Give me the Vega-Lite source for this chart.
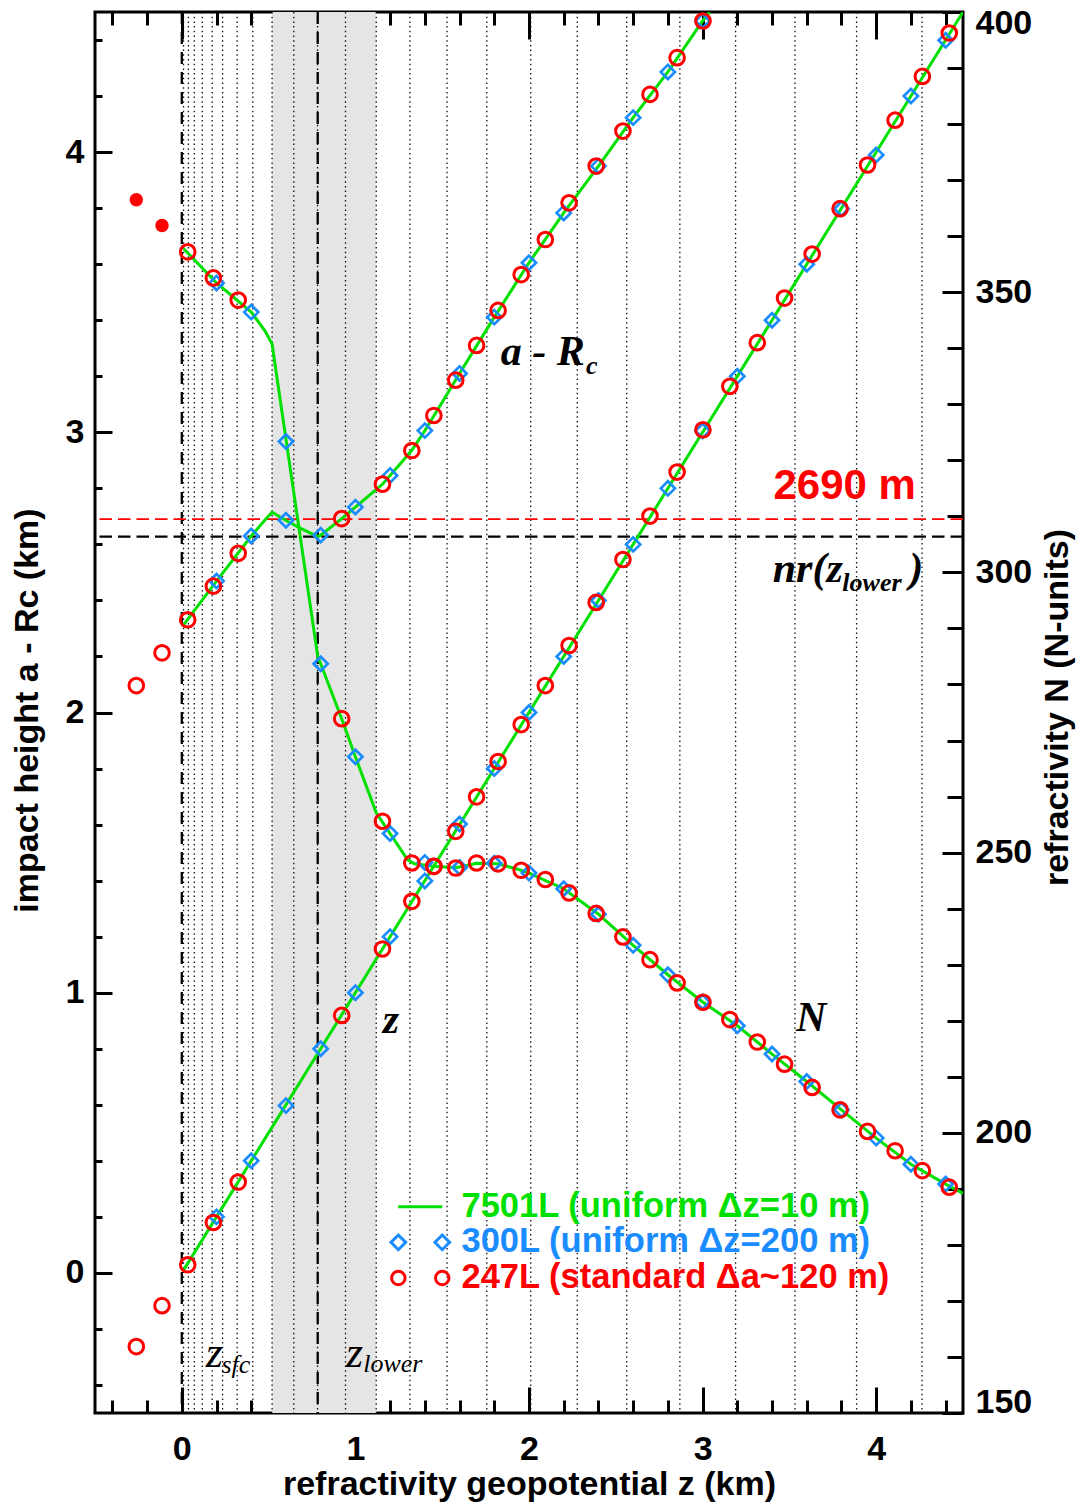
{
  "$schema": "https://vega.github.io/schema/vega-lite/v6.json",
  "width": 868,
  "height": 1401,
  "autosize": {"type": "none"},
  "padding": {"left": 95, "top": 12, "right": 117, "bottom": 91},
  "background": "white",
  "config": {
    "view": {"stroke": "black", "strokeWidth": 3},
    "axis": {
      "domain": false, "grid": false, "tickColor": "black", "tickWidth": 3,
      "labelFont": "Liberation Sans", "labelFontWeight": "bold", "labelFontSize": 34, "labelColor": "black",
      "titleFont": "Liberation Sans", "titleFontWeight": "bold", "titleFontSize": 34, "titleColor": "black"
    }
  },
  "datasets": {
    "band": [{"z1": 0.52, "z2": 1.12}],
    "levels": [{"z": 0.01}, {"z": 0.038}, {"z": 0.072}, {"z": 0.118}, {"z": 0.175}, {"z": 0.235}, {"z": 0.319}, {"z": 0.409}, {"z": 0.52}, {"z": 0.645}, {"z": 0.782}, {"z": 0.943}, {"z": 1.12}, {"z": 1.314}, {"z": 1.528}, {"z": 1.757}, {"z": 2.01}, {"z": 2.278}, {"z": 2.563}, {"z": 2.869}, {"z": 3.19}, {"z": 3.532}, {"z": 3.887}, {"z": 4.264}],
    "zmarks": [{"z": 0.0}, {"z": 0.783}],
    "hred": [{"h": 2.69}],
    "hblack": [{"h": 2.628}],
    "fineKm": [
      {"curve": "a", "z": 0.01, "h": 2.313, "res": "7501L (uniform Δz=10 m)"},
      {"curve": "a", "z": 0.2, "h": 2.469, "res": "7501L (uniform Δz=10 m)"},
      {"curve": "a", "z": 0.4, "h": 2.63, "res": "7501L (uniform Δz=10 m)"},
      {"curve": "a", "z": 0.48, "h": 2.688, "res": "7501L (uniform Δz=10 m)"},
      {"curve": "a", "z": 0.52, "h": 2.715, "res": "7501L (uniform Δz=10 m)"},
      {"curve": "a", "z": 0.598, "h": 2.686, "res": "7501L (uniform Δz=10 m)"},
      {"curve": "a", "z": 0.676, "h": 2.66, "res": "7501L (uniform Δz=10 m)"},
      {"curve": "a", "z": 0.783, "h": 2.628, "res": "7501L (uniform Δz=10 m)"},
      {"curve": "a", "z": 0.8, "h": 2.633, "res": "7501L (uniform Δz=10 m)"},
      {"curve": "a", "z": 0.921, "h": 2.692, "res": "7501L (uniform Δz=10 m)"},
      {"curve": "a", "z": 1.0, "h": 2.733, "res": "7501L (uniform Δz=10 m)"},
      {"curve": "a", "z": 1.156, "h": 2.815, "res": "7501L (uniform Δz=10 m)"},
      {"curve": "a", "z": 1.2, "h": 2.846, "res": "7501L (uniform Δz=10 m)"},
      {"curve": "a", "z": 1.324, "h": 2.935, "res": "7501L (uniform Δz=10 m)"},
      {"curve": "a", "z": 1.4, "h": 3.006, "res": "7501L (uniform Δz=10 m)"},
      {"curve": "a", "z": 1.452, "h": 3.058, "res": "7501L (uniform Δz=10 m)"},
      {"curve": "a", "z": 1.6, "h": 3.21, "res": "7501L (uniform Δz=10 m)"},
      {"curve": "a", "z": 1.8, "h": 3.411, "res": "7501L (uniform Δz=10 m)"},
      {"curve": "a", "z": 2.0, "h": 3.605, "res": "7501L (uniform Δz=10 m)"},
      {"curve": "a", "z": 2.2, "h": 3.783, "res": "7501L (uniform Δz=10 m)"},
      {"curve": "a", "z": 2.4, "h": 3.95, "res": "7501L (uniform Δz=10 m)"},
      {"curve": "a", "z": 2.6, "h": 4.123, "res": "7501L (uniform Δz=10 m)"},
      {"curve": "a", "z": 2.8, "h": 4.286, "res": "7501L (uniform Δz=10 m)"},
      {"curve": "a", "z": 3.0, "h": 4.468, "res": "7501L (uniform Δz=10 m)"},
      {"curve": "a", "z": 3.04, "h": 4.5, "res": "7501L (uniform Δz=10 m)"},
      {"curve": "z", "z": 0.01, "h": 0.01, "res": "7501L (uniform Δz=10 m)"},
      {"curve": "z", "z": 4.5, "h": 4.5, "res": "7501L (uniform Δz=10 m)"}
    ],
    "fineN": [
      {"z": 0.01, "N": 357.8, "res": "7501L (uniform Δz=10 m)"},
      {"z": 0.2, "N": 351.65, "res": "7501L (uniform Δz=10 m)"},
      {"z": 0.4, "N": 346.45, "res": "7501L (uniform Δz=10 m)"},
      {"z": 0.48, "N": 343.05, "res": "7501L (uniform Δz=10 m)"},
      {"z": 0.52, "N": 340.75, "res": "7501L (uniform Δz=10 m)"},
      {"z": 0.783, "N": 285.0, "res": "7501L (uniform Δz=10 m)"},
      {"z": 0.8, "N": 283.7, "res": "7501L (uniform Δz=10 m)"},
      {"z": 0.921, "N": 273.9, "res": "7501L (uniform Δz=10 m)"},
      {"z": 1.0, "N": 267.1, "res": "7501L (uniform Δz=10 m)"},
      {"z": 1.12, "N": 257.1, "res": "7501L (uniform Δz=10 m)"},
      {"z": 1.2, "N": 253.4, "res": "7501L (uniform Δz=10 m)"},
      {"z": 1.3, "N": 248.75, "res": "7501L (uniform Δz=10 m)"},
      {"z": 1.34, "N": 248.0, "res": "7501L (uniform Δz=10 m)"},
      {"z": 1.45, "N": 247.55, "res": "7501L (uniform Δz=10 m)"},
      {"z": 1.58, "N": 247.3, "res": "7501L (uniform Δz=10 m)"},
      {"z": 1.7, "N": 248.1, "res": "7501L (uniform Δz=10 m)"},
      {"z": 1.82, "N": 248.0, "res": "7501L (uniform Δz=10 m)"},
      {"z": 1.95, "N": 246.9, "res": "7501L (uniform Δz=10 m)"},
      {"z": 2.0, "N": 246.35, "res": "7501L (uniform Δz=10 m)"},
      {"z": 2.2, "N": 243.55, "res": "7501L (uniform Δz=10 m)"},
      {"z": 2.4, "N": 239.0, "res": "7501L (uniform Δz=10 m)"},
      {"z": 2.6, "N": 233.45, "res": "7501L (uniform Δz=10 m)"},
      {"z": 2.8, "N": 228.2, "res": "7501L (uniform Δz=10 m)"},
      {"z": 3.0, "N": 223.35, "res": "7501L (uniform Δz=10 m)"},
      {"z": 3.2, "N": 219.1, "res": "7501L (uniform Δz=10 m)"},
      {"z": 3.4, "N": 214.05, "res": "7501L (uniform Δz=10 m)"},
      {"z": 3.6, "N": 209.15, "res": "7501L (uniform Δz=10 m)"},
      {"z": 3.8, "N": 204.1, "res": "7501L (uniform Δz=10 m)"},
      {"z": 4.0, "N": 199.05, "res": "7501L (uniform Δz=10 m)"},
      {"z": 4.2, "N": 194.4, "res": "7501L (uniform Δz=10 m)"},
      {"z": 4.4, "N": 190.85, "res": "7501L (uniform Δz=10 m)"},
      {"z": 4.5, "N": 189.2, "res": "7501L (uniform Δz=10 m)"}
    ],
    "l300Km": [
      {"z": 0.2, "h": 2.469, "res": "300L (uniform Δz=200 m)"},
      {"z": 0.4, "h": 2.63, "res": "300L (uniform Δz=200 m)"},
      {"z": 0.6, "h": 2.686, "res": "300L (uniform Δz=200 m)"},
      {"z": 0.8, "h": 2.633, "res": "300L (uniform Δz=200 m)"},
      {"z": 1.0, "h": 2.733, "res": "300L (uniform Δz=200 m)"},
      {"z": 1.2, "h": 2.846, "res": "300L (uniform Δz=200 m)"},
      {"z": 1.4, "h": 3.006, "res": "300L (uniform Δz=200 m)"},
      {"z": 1.6, "h": 3.21, "res": "300L (uniform Δz=200 m)"},
      {"z": 1.8, "h": 3.411, "res": "300L (uniform Δz=200 m)"},
      {"z": 2.0, "h": 3.605, "res": "300L (uniform Δz=200 m)"},
      {"z": 2.2, "h": 3.783, "res": "300L (uniform Δz=200 m)"},
      {"z": 2.4, "h": 3.95, "res": "300L (uniform Δz=200 m)"},
      {"z": 2.6, "h": 4.123, "res": "300L (uniform Δz=200 m)"},
      {"z": 2.8, "h": 4.286, "res": "300L (uniform Δz=200 m)"},
      {"z": 3.0, "h": 4.468, "res": "300L (uniform Δz=200 m)"},
      {"z": 0.2, "h": 0.2, "res": "300L (uniform Δz=200 m)"},
      {"z": 0.4, "h": 0.4, "res": "300L (uniform Δz=200 m)"},
      {"z": 0.6, "h": 0.597, "res": "300L (uniform Δz=200 m)"},
      {"z": 0.8, "h": 0.8, "res": "300L (uniform Δz=200 m)"},
      {"z": 1.0, "h": 1.0, "res": "300L (uniform Δz=200 m)"},
      {"z": 1.2, "h": 1.2, "res": "300L (uniform Δz=200 m)"},
      {"z": 1.4, "h": 1.399, "res": "300L (uniform Δz=200 m)"},
      {"z": 1.6, "h": 1.602, "res": "300L (uniform Δz=200 m)"},
      {"z": 1.8, "h": 1.8, "res": "300L (uniform Δz=200 m)"},
      {"z": 2.0, "h": 2.0, "res": "300L (uniform Δz=200 m)"},
      {"z": 2.2, "h": 2.2, "res": "300L (uniform Δz=200 m)"},
      {"z": 2.4, "h": 2.4, "res": "300L (uniform Δz=200 m)"},
      {"z": 2.6, "h": 2.6, "res": "300L (uniform Δz=200 m)"},
      {"z": 2.8, "h": 2.8, "res": "300L (uniform Δz=200 m)"},
      {"z": 3.0, "h": 3.005, "res": "300L (uniform Δz=200 m)"},
      {"z": 3.2, "h": 3.2, "res": "300L (uniform Δz=200 m)"},
      {"z": 3.4, "h": 3.4, "res": "300L (uniform Δz=200 m)"},
      {"z": 3.6, "h": 3.6, "res": "300L (uniform Δz=200 m)"},
      {"z": 3.8, "h": 3.798, "res": "300L (uniform Δz=200 m)"},
      {"z": 4.0, "h": 3.99, "res": "300L (uniform Δz=200 m)"},
      {"z": 4.2, "h": 4.2, "res": "300L (uniform Δz=200 m)"},
      {"z": 4.4, "h": 4.399, "res": "300L (uniform Δz=200 m)"}
    ],
    "l300N": [
      {"z": 0.2, "N": 351.65, "res": "300L (uniform Δz=200 m)"},
      {"z": 0.4, "N": 346.45, "res": "300L (uniform Δz=200 m)"},
      {"z": 0.6, "N": 323.35, "res": "300L (uniform Δz=200 m)"},
      {"z": 0.8, "N": 283.7, "res": "300L (uniform Δz=200 m)"},
      {"z": 1.0, "N": 267.1, "res": "300L (uniform Δz=200 m)"},
      {"z": 1.2, "N": 253.4, "res": "300L (uniform Δz=200 m)"},
      {"z": 1.4, "N": 248.25, "res": "300L (uniform Δz=200 m)"},
      {"z": 1.6, "N": 247.35, "res": "300L (uniform Δz=200 m)"},
      {"z": 1.8, "N": 248.1, "res": "300L (uniform Δz=200 m)"},
      {"z": 2.0, "N": 246.35, "res": "300L (uniform Δz=200 m)"},
      {"z": 2.2, "N": 243.55, "res": "300L (uniform Δz=200 m)"},
      {"z": 2.4, "N": 239.0, "res": "300L (uniform Δz=200 m)"},
      {"z": 2.6, "N": 233.45, "res": "300L (uniform Δz=200 m)"},
      {"z": 2.8, "N": 228.2, "res": "300L (uniform Δz=200 m)"},
      {"z": 3.0, "N": 223.35, "res": "300L (uniform Δz=200 m)"},
      {"z": 3.2, "N": 219.1, "res": "300L (uniform Δz=200 m)"},
      {"z": 3.4, "N": 214.05, "res": "300L (uniform Δz=200 m)"},
      {"z": 3.6, "N": 209.15, "res": "300L (uniform Δz=200 m)"},
      {"z": 3.8, "N": 204.1, "res": "300L (uniform Δz=200 m)"},
      {"z": 4.0, "N": 199.05, "res": "300L (uniform Δz=200 m)"},
      {"z": 4.2, "N": 194.4, "res": "300L (uniform Δz=200 m)"},
      {"z": 4.4, "N": 190.85, "res": "300L (uniform Δz=200 m)"}
    ],
    "l247Km": [
      {"z": -0.262, "h": 2.096, "res": "247L (standard Δa~120 m)"},
      {"z": -0.114, "h": 2.213, "res": "247L (standard Δa~120 m)"},
      {"z": 0.034, "h": 2.331, "res": "247L (standard Δa~120 m)"},
      {"z": 0.182, "h": 2.451, "res": "247L (standard Δa~120 m)"},
      {"z": 0.325, "h": 2.568, "res": "247L (standard Δa~120 m)"},
      {"z": 0.921, "h": 2.692, "res": "247L (standard Δa~120 m)"},
      {"z": 1.156, "h": 2.815, "res": "247L (standard Δa~120 m)"},
      {"z": 1.325, "h": 2.935, "res": "247L (standard Δa~120 m)"},
      {"z": 1.452, "h": 3.06, "res": "247L (standard Δa~120 m)"},
      {"z": 1.578, "h": 3.186, "res": "247L (standard Δa~120 m)"},
      {"z": 1.698, "h": 3.31, "res": "247L (standard Δa~120 m)"},
      {"z": 1.822, "h": 3.435, "res": "247L (standard Δa~120 m)"},
      {"z": 1.955, "h": 3.563, "res": "247L (standard Δa~120 m)"},
      {"z": 2.094, "h": 3.688, "res": "247L (standard Δa~120 m)"},
      {"z": 2.231, "h": 3.819, "res": "247L (standard Δa~120 m)"},
      {"z": 2.387, "h": 3.95, "res": "247L (standard Δa~120 m)"},
      {"z": 2.541, "h": 4.075, "res": "247L (standard Δa~120 m)"},
      {"z": 2.697, "h": 4.206, "res": "247L (standard Δa~120 m)"},
      {"z": 2.853, "h": 4.337, "res": "247L (standard Δa~120 m)"},
      {"z": 3.002, "h": 4.468, "res": "247L (standard Δa~120 m)"},
      {"z": -0.262, "h": -0.263, "res": "247L (standard Δa~120 m)"},
      {"z": -0.114, "h": -0.117, "res": "247L (standard Δa~120 m)"},
      {"z": 0.034, "h": 0.029, "res": "247L (standard Δa~120 m)"},
      {"z": 0.182, "h": 0.18, "res": "247L (standard Δa~120 m)"},
      {"z": 0.325, "h": 0.324, "res": "247L (standard Δa~120 m)"},
      {"z": 0.921, "h": 0.919, "res": "247L (standard Δa~120 m)"},
      {"z": 1.156, "h": 1.156, "res": "247L (standard Δa~120 m)"},
      {"z": 1.325, "h": 1.326, "res": "247L (standard Δa~120 m)"},
      {"z": 1.452, "h": 1.451, "res": "247L (standard Δa~120 m)"},
      {"z": 1.578, "h": 1.576, "res": "247L (standard Δa~120 m)"},
      {"z": 1.698, "h": 1.699, "res": "247L (standard Δa~120 m)"},
      {"z": 1.822, "h": 1.825, "res": "247L (standard Δa~120 m)"},
      {"z": 1.955, "h": 1.957, "res": "247L (standard Δa~120 m)"},
      {"z": 2.094, "h": 2.096, "res": "247L (standard Δa~120 m)"},
      {"z": 2.231, "h": 2.239, "res": "247L (standard Δa~120 m)"},
      {"z": 2.387, "h": 2.393, "res": "247L (standard Δa~120 m)"},
      {"z": 2.541, "h": 2.546, "res": "247L (standard Δa~120 m)"},
      {"z": 2.697, "h": 2.701, "res": "247L (standard Δa~120 m)"},
      {"z": 2.853, "h": 2.858, "res": "247L (standard Δa~120 m)"},
      {"z": 3.002, "h": 3.009, "res": "247L (standard Δa~120 m)"},
      {"z": 3.157, "h": 3.164, "res": "247L (standard Δa~120 m)"},
      {"z": 3.315, "h": 3.32, "res": "247L (standard Δa~120 m)"},
      {"z": 3.472, "h": 3.479, "res": "247L (standard Δa~120 m)"},
      {"z": 3.631, "h": 3.636, "res": "247L (standard Δa~120 m)"},
      {"z": 3.792, "h": 3.798, "res": "247L (standard Δa~120 m)"},
      {"z": 3.95, "h": 3.954, "res": "247L (standard Δa~120 m)"},
      {"z": 4.109, "h": 4.114, "res": "247L (standard Δa~120 m)"},
      {"z": 4.266, "h": 4.27, "res": "247L (standard Δa~120 m)"},
      {"z": 4.421, "h": 4.425, "res": "247L (standard Δa~120 m)"}
    ],
    "l247N": [
      {"z": 0.034, "N": 357.2, "res": "247L (standard Δa~120 m)"},
      {"z": 0.182, "N": 352.55, "res": "247L (standard Δa~120 m)"},
      {"z": 0.325, "N": 348.6, "res": "247L (standard Δa~120 m)"},
      {"z": 0.921, "N": 273.9, "res": "247L (standard Δa~120 m)"},
      {"z": 1.156, "N": 255.6, "res": "247L (standard Δa~120 m)"},
      {"z": 1.325, "N": 248.15, "res": "247L (standard Δa~120 m)"},
      {"z": 1.452, "N": 247.55, "res": "247L (standard Δa~120 m)"},
      {"z": 1.578, "N": 247.25, "res": "247L (standard Δa~120 m)"},
      {"z": 1.698, "N": 248.15, "res": "247L (standard Δa~120 m)"},
      {"z": 1.822, "N": 248.0, "res": "247L (standard Δa~120 m)"},
      {"z": 1.955, "N": 246.85, "res": "247L (standard Δa~120 m)"},
      {"z": 2.094, "N": 245.2, "res": "247L (standard Δa~120 m)"},
      {"z": 2.231, "N": 242.8, "res": "247L (standard Δa~120 m)"},
      {"z": 2.387, "N": 239.15, "res": "247L (standard Δa~120 m)"},
      {"z": 2.541, "N": 234.95, "res": "247L (standard Δa~120 m)"},
      {"z": 2.697, "N": 230.9, "res": "247L (standard Δa~120 m)"},
      {"z": 2.853, "N": 226.75, "res": "247L (standard Δa~120 m)"},
      {"z": 3.002, "N": 223.3, "res": "247L (standard Δa~120 m)"},
      {"z": 3.157, "N": 220.2, "res": "247L (standard Δa~120 m)"},
      {"z": 3.315, "N": 216.2, "res": "247L (standard Δa~120 m)"},
      {"z": 3.472, "N": 212.25, "res": "247L (standard Δa~120 m)"},
      {"z": 3.631, "N": 208.1, "res": "247L (standard Δa~120 m)"},
      {"z": 3.792, "N": 204.1, "res": "247L (standard Δa~120 m)"},
      {"z": 3.95, "N": 200.25, "res": "247L (standard Δa~120 m)"},
      {"z": 4.109, "N": 196.8, "res": "247L (standard Δa~120 m)"},
      {"z": 4.266, "N": 193.25, "res": "247L (standard Δa~120 m)"},
      {"z": 4.421, "N": 190.3, "res": "247L (standard Δa~120 m)"}
    ],
    "extraN": [{"z": -0.262, "N": 366.5}, {"z": -0.114, "N": 361.9}],
    "labBigBI": [
      {"t": "a - R", "z": 1.837, "h": 3.239},
      {"t": "z", "z": 1.158, "h": 0.857},
      {"t": "N", "z": 3.538, "h": 0.862},
      {"t": "nr(z", "z": 3.404, "h": 2.464},
      {"t": ")", "z": 4.19, "h": 2.464}
    ],
    "labSubBI": [
      {"t": "c", "z": 2.328, "h": 3.208},
      {"t": "lower", "z": 3.805, "h": 2.432}
    ],
    "labBigI": [
      {"t": "z", "z": 0.1375, "h": -0.335},
      {"t": "z", "z": 0.946, "h": -0.335}
    ],
    "labSubI": [
      {"t": "sfc", "z": 0.228, "h": -0.356},
      {"t": "lower", "z": 1.045, "h": -0.354}
    ],
    "labRed": [{"t": "2690 m", "z": 3.408, "h": 2.761}]
  },
  "layer": [
    {
      "data": {"name": "band"},
      "mark": {"type": "rect", "color": "#e5e5e5"},
      "encoding": {
        "x": {"field": "z1", "type": "quantitative", "scale": {"domain": [-0.5, 4.5], "nice": false, "zero": false},
          "axis": {"orient": "bottom", "values": [0, 1, 2, 3, 4], "tickSize": -26, "labelPadding": 45, "labelFlush": false,
            "title": "refractivity geopotential z (km)", "titleX": 434, "titleY": 81, "titleBaseline": "alphabetic", "titleAlign": "center"}},
        "x2": {"field": "z2"}
      }
    },
    {
      "data": {"name": "levels"},
      "mark": {"type": "rule", "color": "#111111", "strokeWidth": 1.3, "strokeDash": [1.5, 3.2]},
      "encoding": {
        "x": {"field": "z", "type": "quantitative", "scale": {"domain": [-0.5, 4.5], "nice": false, "zero": false},
          "axis": {"orient": "top", "values": [0, 1, 2, 3, 4], "tickSize": -27, "labels": false, "title": null}}
      }
    },
    {
      "data": {"name": "zmarks"},
      "mark": {"type": "rule", "color": "black", "strokeWidth": 2.3, "strokeDash": [12, 8]},
      "encoding": {
        "x": {"field": "z", "type": "quantitative", "scale": {"domain": [-0.5, 4.5], "nice": false, "zero": false},
          "axis": {"orient": "bottom", "values": [-0.4, -0.2, 0.2, 0.4, 0.6, 0.8, 1.2, 1.4, 1.6, 1.8, 2.2, 2.4, 2.6, 2.8, 3.2, 3.4, 3.6, 3.8, 4.2, 4.4], "tickSize": -13, "labels": false, "title": null}}
      }
    },
    {
      "data": {"name": "hred"},
      "mark": {"type": "rule", "color": "#ff0000", "strokeWidth": 1.6, "strokeDash": [12.5, 6]},
      "encoding": {
        "y": {"field": "h", "type": "quantitative", "scale": {"domain": [-0.5, 4.5], "nice": false, "zero": false},
          "axis": {"orient": "left", "values": [0, 1, 2, 3, 4], "tickSize": -17, "labelPadding": 28,
            "title": "impact height a - Rc (km)", "titleAngle": -90, "titleX": -58, "titleY": 698, "titleBaseline": "alphabetic", "titleAlign": "center"}}
      }
    },
    {
      "data": {"name": "hblack"},
      "mark": {"type": "rule", "color": "black", "strokeWidth": 2.2, "strokeDash": [12.5, 6]},
      "encoding": {
        "y": {"field": "h", "type": "quantitative", "scale": {"domain": [-0.5, 4.5], "nice": false, "zero": false},
          "axis": {"orient": "left", "values": [-0.4, -0.2, 0.2, 0.4, 0.6, 0.8, 1.2, 1.4, 1.6, 1.8, 2.2, 2.4, 2.6, 2.8, 3.2, 3.4, 3.6, 3.8, 4.2, 4.4], "tickSize": -7, "labels": false, "title": null}}
      }
    },
    {
      "data": {"name": "fineKm"},
      "mark": {"type": "line", "strokeWidth": 3, "clip": true},
      "encoding": {
        "x": {"field": "z", "type": "quantitative", "scale": {"domain": [-0.5, 4.5], "nice": false, "zero": false},
          "axis": {"orient": "top", "values": [-0.4, -0.2, 0.2, 0.4, 0.6, 0.8, 1.2, 1.4, 1.6, 1.8, 2.2, 2.4, 2.6, 2.8, 3.2, 3.4, 3.6, 3.8, 4.2, 4.4], "tickSize": -13, "labels": false, "title": null}},
        "y": {"field": "h", "type": "quantitative", "scale": {"domain": [-0.5, 4.5], "nice": false, "zero": false}, "axis": null},
        "detail": {"field": "curve"},
        "color": {"field": "res", "type": "nominal",
          "scale": {"domain": ["7501L (uniform Δz=10 m)", "300L (uniform Δz=200 m)", "247L (standard Δa~120 m)"], "range": ["#00e000", "#1a8cff", "#ff0000"]},
          "legend": {
            "orient": "none", "legendX": 330, "legendY": 1177.5, "direction": "vertical", "title": null, "padding": 0,
            "symbolSize": 150, "symbolStrokeWidth": 3, "symbolFillColor": "transparent", "symbolOpacity": 1,
            "symbolType": {"expr": "datum.value == '300L (uniform Δz=200 m)' ? 'M0,-1.2L1.2,0L0,1.2L-1.2,0Z M-7.17,-1.2L-5.97,0L-7.17,1.2L-8.37,0Z' : datum.value == '247L (standard Δa~120 m)' ? 'M1.1,0A1.1,1.1,0,1,1,-1.1,0A1.1,1.1,0,1,1,1.1,0Z M-6.07,0A1.1,1.1,0,1,1,-8.27,0A1.1,1.1,0,1,1,-6.07,0Z' : 'M-7.2,0L0,0'"},
            "symbolStrokeColor": {"expr": "scale('color', datum.value)"},
            "labelColor": {"expr": "scale('color', datum.value)"},
            "labelFont": "Liberation Sans", "labelFontWeight": "bold", "labelFontSize": 34.5, "labelOffset": 2, "labelLimit": 1000, "rowPadding": 0.6
          }
        }
      }
    },
    {
      "data": {"name": "fineN"},
      "mark": {"type": "line", "strokeWidth": 3, "clip": true},
      "encoding": {
        "x": {"field": "z", "type": "quantitative", "scale": {"domain": [-0.5, 4.5], "nice": false, "zero": false}, "axis": null},
        "y": {"field": "N", "type": "quantitative", "scale": {"domain": [150, 400], "nice": false, "zero": false},
          "axis": {"orient": "right", "values": [150, 200, 250, 300, 350, 400], "tickSize": -21, "labelPadding": 33, "labelFlush": true, "labelFlushOffset": 6,
            "title": "refractivity N (N-units)", "titleAngle": -90, "titleX": 104, "titleY": 695, "titleBaseline": "alphabetic", "titleAlign": "center"}},
        "color": {"field": "res", "type": "nominal", "legend": null}
      }
    },
    {
      "data": {"name": "l300Km"},
      "mark": {"type": "point", "shape": "diamond", "filled": false, "size": 200, "strokeWidth": 2.7, "opacity": 1},
      "encoding": {
        "x": {"field": "z", "type": "quantitative", "scale": {"domain": [-0.5, 4.5], "nice": false, "zero": false}, "axis": null},
        "y": {"field": "h", "type": "quantitative", "scale": {"domain": [-0.5, 4.5], "nice": false, "zero": false}, "axis": null},
        "color": {"field": "res", "type": "nominal", "legend": null}
      }
    },
    {
      "data": {"name": "l300N"},
      "mark": {"type": "point", "shape": "diamond", "filled": false, "size": 200, "strokeWidth": 2.7, "opacity": 1},
      "encoding": {
        "x": {"field": "z", "type": "quantitative", "scale": {"domain": [-0.5, 4.5], "nice": false, "zero": false}, "axis": null},
        "y": {"field": "N", "type": "quantitative", "scale": {"domain": [150, 400], "nice": false, "zero": false},
          "axis": {"orient": "right", "values": [160, 170, 180, 190, 210, 220, 230, 240, 260, 270, 280, 290, 310, 320, 330, 340, 360, 370, 380, 390], "tickSize": -16, "labels": false, "title": null}},
        "color": {"field": "res", "type": "nominal", "legend": null}
      }
    },
    {
      "data": {"name": "l247Km"},
      "mark": {"type": "point", "shape": "circle", "filled": false, "size": 215, "strokeWidth": 3, "opacity": 1},
      "encoding": {
        "x": {"field": "z", "type": "quantitative", "scale": {"domain": [-0.5, 4.5], "nice": false, "zero": false}, "axis": null},
        "y": {"field": "h", "type": "quantitative", "scale": {"domain": [-0.5, 4.5], "nice": false, "zero": false}, "axis": null},
        "color": {"field": "res", "type": "nominal", "legend": null}
      }
    },
    {
      "data": {"name": "l247N"},
      "mark": {"type": "point", "shape": "circle", "filled": false, "size": 215, "strokeWidth": 3, "opacity": 1},
      "encoding": {
        "x": {"field": "z", "type": "quantitative", "scale": {"domain": [-0.5, 4.5], "nice": false, "zero": false}, "axis": null},
        "y": {"field": "N", "type": "quantitative", "scale": {"domain": [150, 400], "nice": false, "zero": false}, "axis": null},
        "color": {"field": "res", "type": "nominal", "legend": null}
      }
    },
    {
      "data": {"name": "extraN"},
      "mark": {"type": "point", "shape": "circle", "filled": true, "size": 180, "color": "#ff0000", "opacity": 1},
      "encoding": {
        "x": {"field": "z", "type": "quantitative", "scale": {"domain": [-0.5, 4.5], "nice": false, "zero": false}, "axis": null},
        "y": {"field": "N", "type": "quantitative", "scale": {"domain": [150, 400], "nice": false, "zero": false}, "axis": null}
      }
    },
    {
      "data": {"name": "labBigBI"},
      "mark": {"type": "text", "font": "Liberation Serif", "fontStyle": "italic", "fontWeight": "bold", "fontSize": 42, "align": "left", "baseline": "alphabetic", "color": "black"},
      "encoding": {
        "x": {"field": "z", "type": "quantitative", "scale": {"domain": [-0.5, 4.5], "nice": false, "zero": false}, "axis": null},
        "y": {"field": "h", "type": "quantitative", "scale": {"domain": [-0.5, 4.5], "nice": false, "zero": false}, "axis": null},
        "text": {"field": "t"}
      }
    },
    {
      "data": {"name": "labSubBI"},
      "mark": {"type": "text", "font": "Liberation Serif", "fontStyle": "italic", "fontWeight": "bold", "fontSize": 26, "align": "left", "baseline": "alphabetic", "color": "black"},
      "encoding": {
        "x": {"field": "z", "type": "quantitative", "scale": {"domain": [-0.5, 4.5], "nice": false, "zero": false}, "axis": null},
        "y": {"field": "h", "type": "quantitative", "scale": {"domain": [-0.5, 4.5], "nice": false, "zero": false}, "axis": null},
        "text": {"field": "t"}
      }
    },
    {
      "data": {"name": "labBigI"},
      "mark": {"type": "text", "font": "Liberation Serif", "fontStyle": "italic", "fontSize": 44, "align": "left", "baseline": "alphabetic", "color": "black"},
      "encoding": {
        "x": {"field": "z", "type": "quantitative", "scale": {"domain": [-0.5, 4.5], "nice": false, "zero": false}, "axis": null},
        "y": {"field": "h", "type": "quantitative", "scale": {"domain": [-0.5, 4.5], "nice": false, "zero": false}, "axis": null},
        "text": {"field": "t"}
      }
    },
    {
      "data": {"name": "labSubI"},
      "mark": {"type": "text", "font": "Liberation Serif", "fontStyle": "italic", "fontSize": 26, "align": "left", "baseline": "alphabetic", "color": "black"},
      "encoding": {
        "x": {"field": "z", "type": "quantitative", "scale": {"domain": [-0.5, 4.5], "nice": false, "zero": false}, "axis": null},
        "y": {"field": "h", "type": "quantitative", "scale": {"domain": [-0.5, 4.5], "nice": false, "zero": false}, "axis": null},
        "text": {"field": "t"}
      }
    },
    {
      "data": {"name": "labRed"},
      "mark": {"type": "text", "font": "Liberation Sans", "fontWeight": "bold", "fontSize": 42, "align": "left", "baseline": "alphabetic", "color": "#ff0000"},
      "encoding": {
        "x": {"field": "z", "type": "quantitative", "scale": {"domain": [-0.5, 4.5], "nice": false, "zero": false}, "axis": null},
        "y": {"field": "h", "type": "quantitative", "scale": {"domain": [-0.5, 4.5], "nice": false, "zero": false}, "axis": null},
        "text": {"field": "t"}
      }
    }
  ],
  "resolve": {
    "scale": {"y": "independent"},
    "axis": {"x": "independent", "y": "independent"}
  }
}
